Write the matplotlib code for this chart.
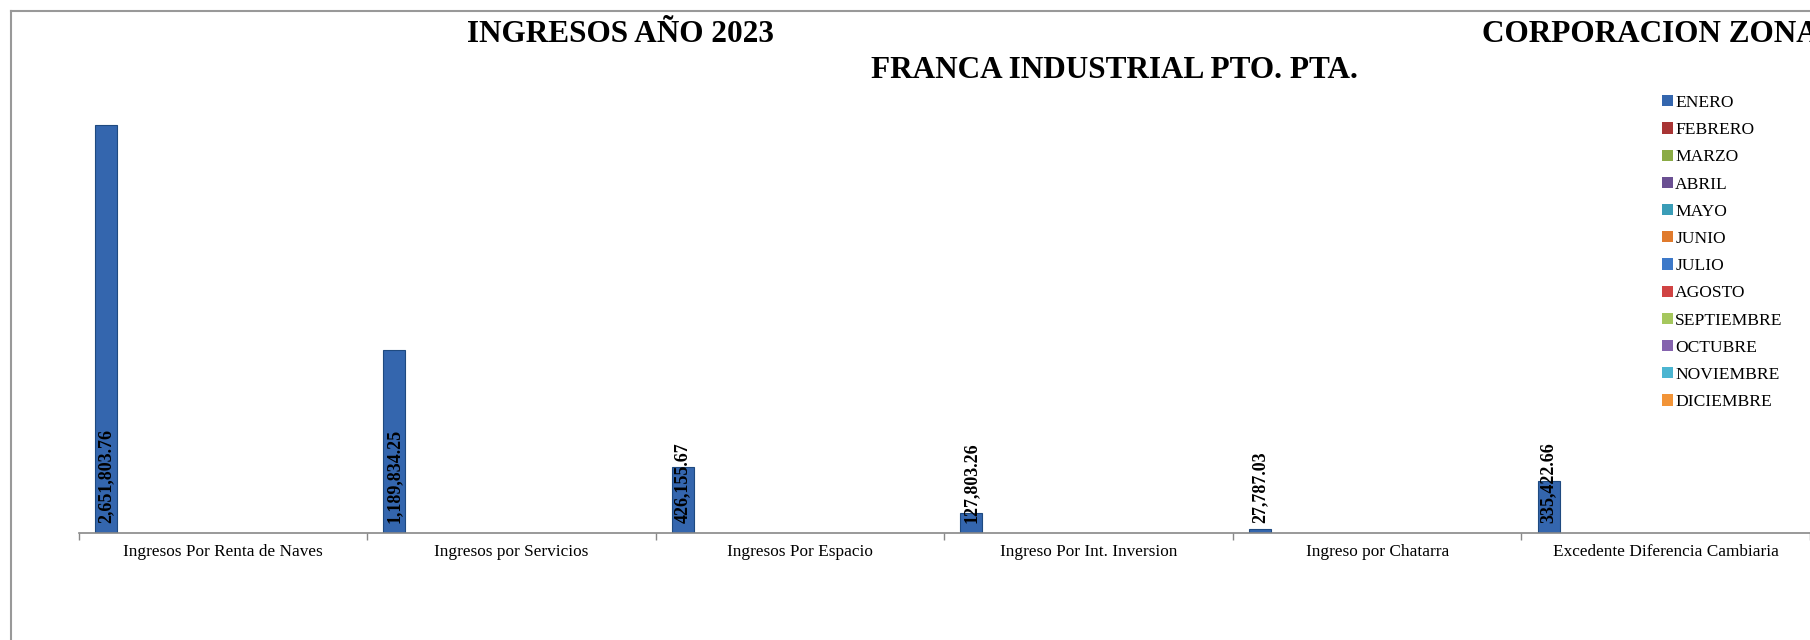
import numpy as np
import matplotlib
matplotlib.use('Agg')
import matplotlib.pyplot as plt
from matplotlib.lines import Line2D
from matplotlib.patches import Patch

plt.rcParams['font.family'] = ['Liberation Serif', 'DejaVu Serif']

# data
categorias = ['Ingresos Por Renta de Naves', 'Ingresos por Servicios',
              'Ingresos Por Espacio', 'Ingreso Por Int. Inversion',
              'Ingreso por Chatarra', 'Excedente Diferencia Cambiaria']
meses = ['ENERO', 'FEBRERO', 'MARZO', 'ABRIL', 'MAYO', 'JUNIO', 'JULIO',
         'AGOSTO', 'SEPTIEMBRE', 'OCTUBRE', 'NOVIEMBRE', 'DICIEMBRE']
enero = [2651803.76, 1189834.25, 426155.67, 127803.26, 27787.03, 335422.66]
otros_meses = [0, 0, 0, 0, 0, 0]

colores = ['#3466ae', '#a83434', '#8aab45', '#6a4f92', '#3a9db7', '#e07a2c',
           '#3d79c9', '#d04343', '#a5c75d', '#8563ae', '#4bb5d1', '#f29437']

fig = plt.figure(figsize=(18.1, 6.4), dpi=100)
ax = fig.add_axes([78.5 / 1810, 1 - 533 / 640, 1 - 78.5 / 1810, 462 / 640])

x = np.arange(len(categorias))
w = 0.076
start = -0.444
for j, mes in enumerate(meses):
    vals = enero if j == 0 else otros_meses
    pos = x + start + w / 2 + j * w
    ax.bar(pos, vals, width=w, color=colores[j],
           edgecolor='#1f4a80' if j == 0 else 'none',
           linewidth=0.8 if j == 0 else 0, label=mes)
    if j == 0:
        for xi, v in zip(pos, vals):
            ax.annotate('{:,.2f}'.format(v), (xi, 0), xytext=(0, 7),
                        textcoords='offset points', rotation=90,
                        ha='center', va='bottom', fontsize=13,
                        fontweight='bold', color='black')

ax.set_xlim(-0.5, len(categorias) - 0.5)
ax.set_ylim(0, 3000000)
for s in ['top', 'right', 'left']:
    ax.spines[s].set_visible(False)
ax.spines['bottom'].set_color('#888888')
ax.spines['bottom'].set_linewidth(1.2)
ax.set_yticks([])
ax.set_xticks(np.arange(-0.5, len(categorias)), labels=[''] * (len(categorias) + 1))
ax.tick_params(axis='x', which='major', length=5, color='#888888', width=1)
ax.set_xticks(x, labels=categorias, minor=True)
ax.tick_params(axis='x', which='minor', length=0, pad=8, labelsize=12.4)

handles = [Patch(facecolor=c, edgecolor='none') for c in colores]
fig.legend(handles, meses, loc='upper left',
           bbox_to_anchor=(1662 / 1810, 1 - 95 / 640), frameon=False,
           handlelength=0.6, handleheight=0.6, handletextpad=0.15,
           labelspacing=0.64, fontsize=12.6, borderaxespad=0, borderpad=0)

fig.text(620 / 1810, 1 - 35 / 640, 'INGRESOS AÑO 2023', ha='center',
         va='center', fontsize=22.5, fontweight='bold')
fig.text(1482 / 1810, 1 - 35 / 640, 'CORPORACION ZONA', ha='left',
         va='center', fontsize=22.5, fontweight='bold')
fig.text(1114 / 1810, 1 - 71 / 640, 'FRANCA INDUSTRIAL PTO. PTA.', ha='center',
         va='center', fontsize=22.5, fontweight='bold')

# chart border (only top and left visible)
fig.add_artist(Line2D([10.5 / 1810, 10.5 / 1810], [0, 1 - 10.5 / 640],
                      transform=fig.transFigure, color='#999999', lw=1.5))
fig.add_artist(Line2D([10.5 / 1810, 1], [1 - 10.5 / 640, 1 - 10.5 / 640],
                      transform=fig.transFigure, color='#999999', lw=1.5))

fig.savefig('out.png', dpi=100)
